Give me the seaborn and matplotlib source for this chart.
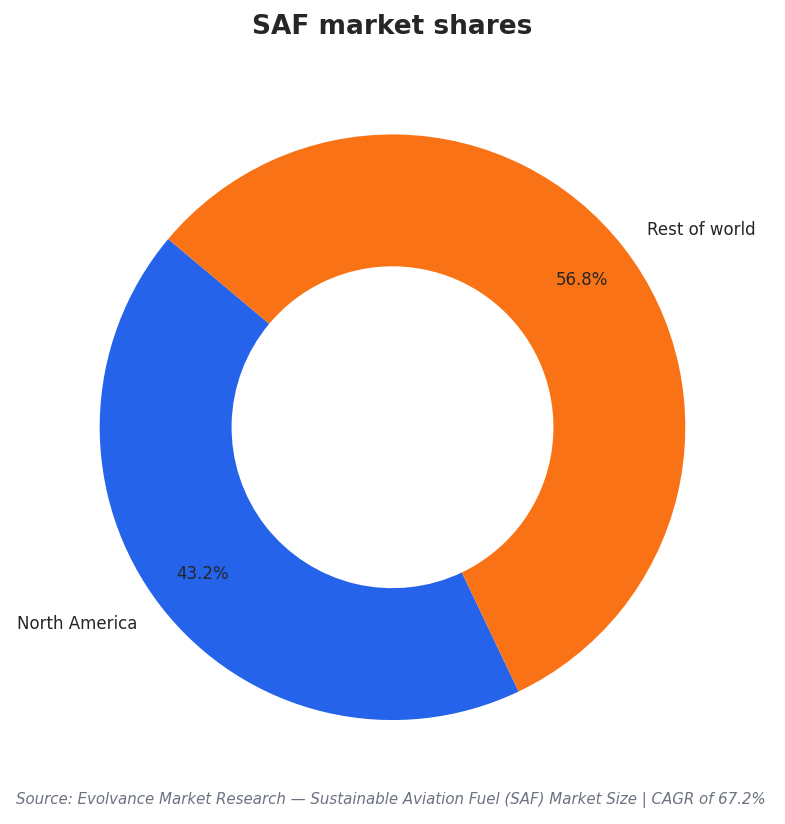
import matplotlib
matplotlib.use("Agg")
import matplotlib.pyplot as plt
import seaborn as sns

sns.set_theme(style="white")
plt.rcParams['font.family'] = ['DejaVu Sans']

# Data
regions = ["North America", "Rest of world"]
shares = [43.2, 56.8]
colors = ["#2563EB", "#F97316"]

fig = plt.figure(figsize=(7.85, 8.24), dpi=100)
ax = fig.add_axes([0.127, 0.126, 0.746, 0.711])

wedges, texts, autotexts = ax.pie(
    shares, labels=regions, colors=colors, startangle=140, radius=1.25,
    autopct="%1.1f%%", pctdistance=0.82, labeldistance=1.1,
    wedgeprops=dict(width=0.563, edgecolor="white", linewidth=0),
    textprops=dict(color="#262626", fontsize=12),
)
ax.set_aspect("equal")

fig.text(0.5, 0.967, "SAF market shares", ha="center", va="center",
         fontsize=19, fontweight="bold", color="#262626")
fig.text(0.02, 0.029,
         "Source: Evolvance Market Research \u2014 Sustainable Aviation Fuel (SAF) Market Size | CAGR of 67.2%",
         ha="left", va="center", fontsize=10.8, style="italic", color="#6B7280")

fig.savefig("out.png", dpi=100)
